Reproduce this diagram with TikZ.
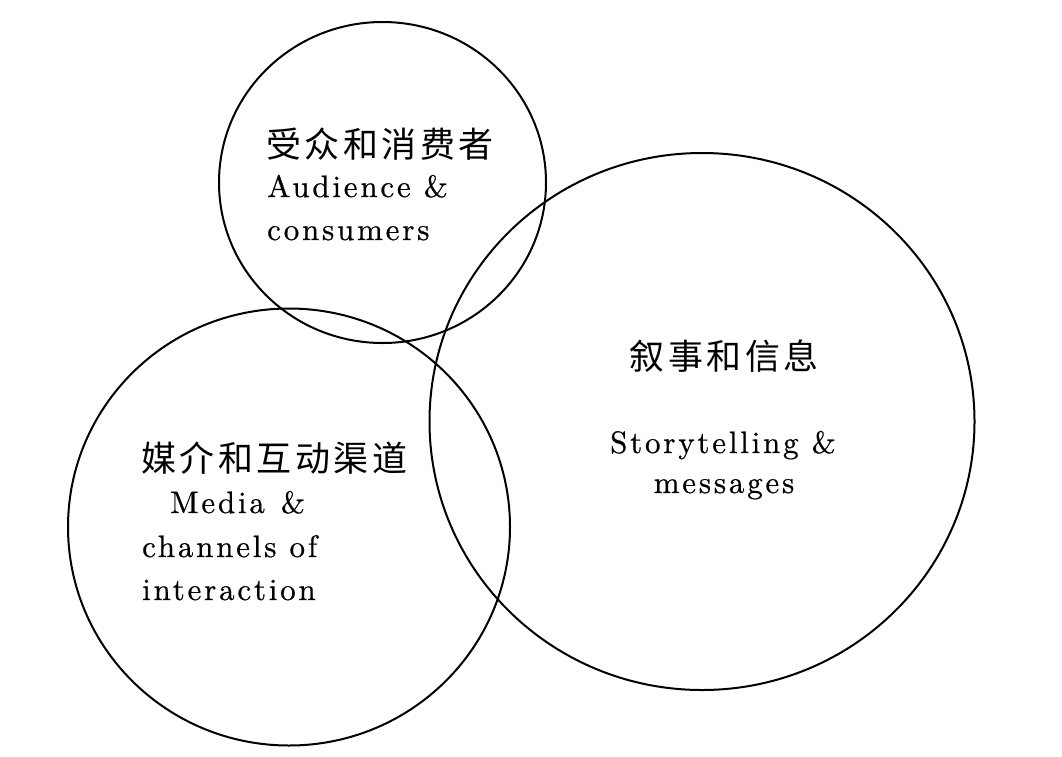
\documentclass[tikz,border=0pt]{standalone}
\usepackage{fontspec}
\newfontfamily\cjk{Noto Sans CJK SC}[LetterSpace=10]
\newfontfamily\lat{lmroman10-regular.otf}[LetterSpace=9,FakeBold=0.6]
\usetikzlibrary{shapes.geometric}
\tikzset{
  ring/.style={draw, ellipse, line width=2pt, inner sep=0pt},
  zh/.style={font=\cjk\fontsize{35}{40}\selectfont, inner sep=0pt},
  en/.style={font=\lat\fontsize{31}{43}\selectfont, inner sep=0pt}
}
\begin{document}
\begin{tikzpicture}[x=1pt,y=-1pt]
\useasboundingbox (0,0) rectangle (1062,756);
\node[ring, minimum width=327pt, minimum height=321pt] (c1) at (382.5,182.5) {};
\node[ring, minimum width=442pt, minimum height=437pt] (c2) at (289,527) {};
\node[ring, minimum width=545pt, minimum height=537pt] (c3) at (702,421.5) {};
% circle 1
\node[zh, anchor=base west] (t1zh) at (266,157) {受众和消费者};
\node[en, anchor=base west] (t1a) at (267,197) {Audience \&};
\node[en, anchor=base west] (t1b) at (267,240) {consumers};
% circle 2
\node[zh, anchor=base west] (t2zh) at (141,471) {媒介和互动渠道};
\node[en, anchor=base west] (t2a) at (170,513) {Media\hspace*{16pt}\&};
\node[en, anchor=base west] (t2b) at (142,557) {channels of};
\node[en, anchor=base west] (t2c) at (142,600) {interaction};
% circle 3
\node[zh, anchor=base] (t3zh) at (724,369.5) {叙事和信息};
\node[en, anchor=base] (t3a) at (723,453) {Storytelling \&};
\node[en, anchor=base] (t3b) at (724,493) {messages};
\end{tikzpicture}
\end{document}
